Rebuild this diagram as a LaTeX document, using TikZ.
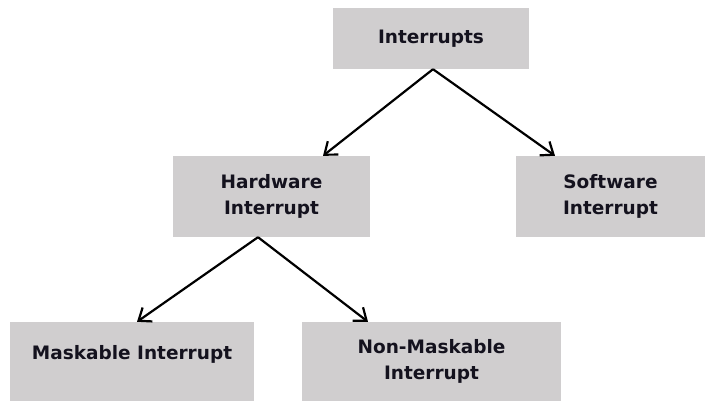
\documentclass[tikz,border=0pt]{standalone}
\usepackage{fontspec}
\setmainfont{DejaVu Sans}
\usetikzlibrary{arrows.meta}
\definecolor{boxgray}{RGB}{208,206,207}
\definecolor{inkdark}{RGB}{20,18,30}
\begin{document}
\begin{tikzpicture}[x=1pt, y=-1pt, font=\fontsize{18.5}{26.5}\selectfont\bfseries,
	block/.style={fill=boxgray, text=inkdark, align=center, inner sep=0pt},
	link/.style={line width=2.2pt, -{Straight Barb[length=11pt, width=17pt, line width=2.2pt]}}]
			\useasboundingbox (0,0) rectangle (707,401);
			\node[block, minimum width=196, minimum height=61] (intr) at (431,38.5) {Interrupts};
			\node[block, minimum width=197, minimum height=81] (hw) at (271.5,196.5) {Hardware\\Interrupt};
			\node[block, minimum width=189, minimum height=81] (sw) at (610.5,196.5) {Software\\Interrupt};
			\node[block, minimum width=244, minimum height=79] (mask) at (132,361.5) {\raisebox{7pt}[\height][\depth]{Maskable Interrupt}};
			\node[block, minimum width=259, minimum height=79] (nmask) at (431.5,361.5) {Non-Maskable\\Interrupt};
			\draw[link] ([xshift=2pt]intr.south) -- ([xshift=51.5pt]hw.north);
			\draw[link] ([xshift=2pt]intr.south) -- ([xshift=-55.5pt]sw.north);
			\draw[link] ([xshift=-13.5pt]hw.south) -- ([xshift=5pt]mask.north);
			\draw[link] ([xshift=-13.5pt]hw.south) -- ([xshift=-63.5pt]nmask.north);
		\end{tikzpicture}
\end{document}
